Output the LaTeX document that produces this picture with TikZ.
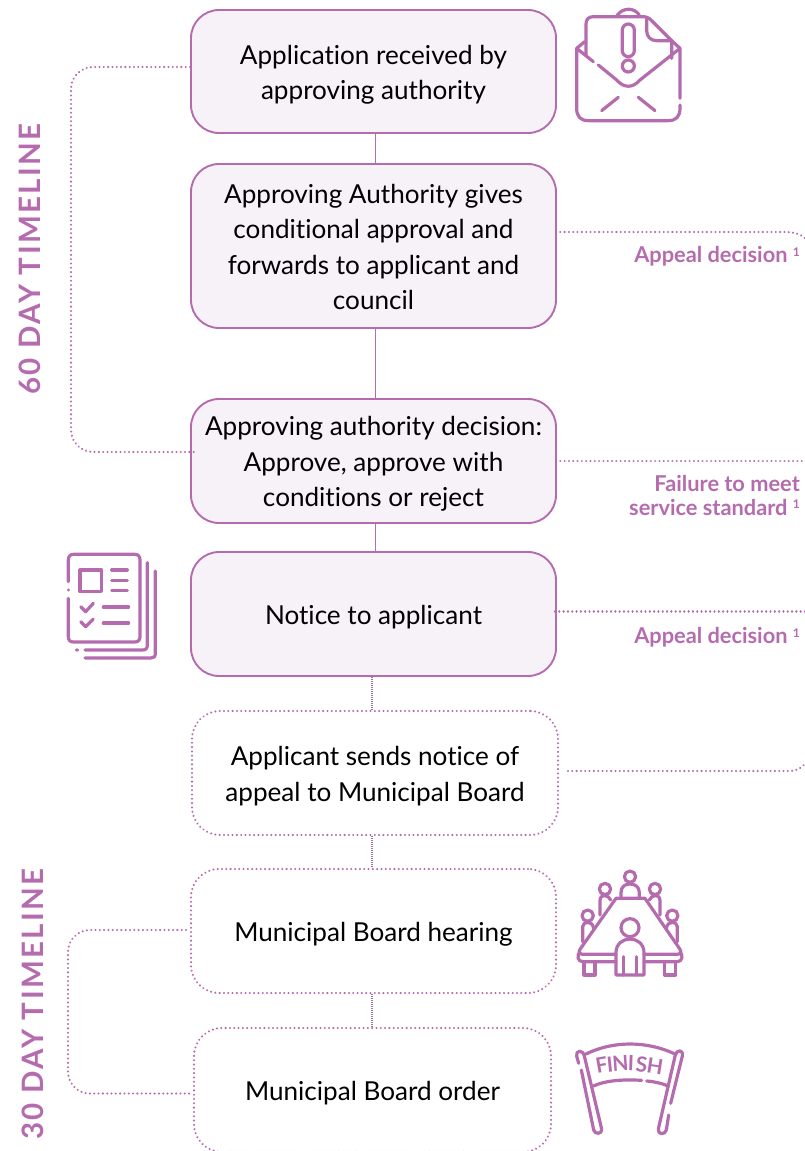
\documentclass[tikz,border=0pt]{standalone}
\usepackage{fontspec}
\setmainfont{Lato}[Ligatures=NoCommon]
\definecolor{pur}{HTML}{B56CAF}
\definecolor{pale}{HTML}{F7F1F8}
\tikzset{
 solidbox/.style={draw=pur,line width=1.9pt,fill=pale,rounded corners=28pt,align=center,font=\fontsize{26.1}{35.5}\selectfont,inner sep=0pt,text=black},
 dotbox/.style={draw=pur,dotln,rounded corners=28pt,align=center,font=\fontsize{26.1}{35.5}\selectfont,inner sep=0pt,text=black},
 dotln/.style={line width=2.3pt,line cap=round,dash pattern=on 0.01pt off 4.3pt,draw=pur},
 linkln/.style={draw=pur,line width=1pt},
 linkdot/.style={draw=pur!60!gray,line width=1.2pt,dash pattern=on 1pt off 1pt},
 lbl/.style={text=pur,font=\fontsize{21.8}{24}\bfseries\selectfont,align=right,anchor=east,inner sep=0pt},
 vlbl/.style={text=pur,font=\addfontfeature{LetterSpace=8}\fontsize{29.5}{30}\bfseries\selectfont,rotate=90,inner sep=0pt},
 ico/.style={draw=pur,line width=3.2pt,line cap=round,line join=round},
 icoscope/.style={x=0.3333pt,y=-0.3333pt},
 flag/.style={text=pur,font=\fontsize{21}{21}\bfseries\selectfont,inner sep=0pt}
}
\newcommand{\sdot}{\raisebox{0.55ex}{\fontsize{12}{12}\selectfont 1}}
\newcommand{\dn}{\rule{0pt}{25.5pt}}
\newcommand{\dnb}{\rule{0pt}{21.5pt}}
\begin{document}
\begin{tikzpicture}[x=1pt,y=-1pt]
\useasboundingbox (0,0) rectangle (805,1151);
\begin{scope}
\clip (0,0) rectangle (805,1151);
\node[solidbox,minimum width=365pt,minimum height=123pt] (n1) at (373.5,71.5) {\dn Application received by\\approving authority};
\node[solidbox,minimum width=365pt,minimum height=164pt] (n2) at (373.5,246) {\dnb Approving Authority gives\\conditional approval and\\forwards to applicant and\\council};
\node[solidbox,minimum width=365pt,minimum height=124pt] (n3) at (373.5,461) {\dn Approving authority decision:\\Approve, approve with\\conditions or reject};
\node[solidbox,minimum width=365pt,minimum height=124pt] (n4) at (373.5,614) {\dn Notice to applicant};
\node[dotbox,minimum width=366pt,minimum height=124pt] (n5) at (375,773) {\dn Applicant sends notice of\\appeal to Municipal Board};
\node[dotbox,minimum width=365pt,minimum height=124pt] (n6) at (373.5,931) {\dn Municipal Board hearing};
\node[dotbox,minimum width=357pt,minimum height=124pt] (n7) at (372.5,1090) {\dn Municipal Board order};
\end{scope}

\draw[linkln] ([xshift=1.5pt]n1.south) -- ([xshift=1.5pt]n2.north);
\draw[linkln] ([xshift=1.5pt]n2.south) -- ([xshift=1.5pt]n3.north);
\draw[linkln] ([xshift=1.5pt]n3.south) -- ([xshift=1.5pt]n4.north);
\draw[linkdot] ([xshift=-1.5pt]n4.south) -- ([xshift=-3pt]n5.north);
\draw[linkdot] ([xshift=-3pt]n5.south) -- ([xshift=-1.5pt]n6.north);
\draw[linkdot] ([xshift=-1.5pt]n6.south) -- ([xshift=-0.5pt]n7.north);

% timeline brackets
\coordinate (a1) at (190,67); \coordinate (a2) at (195,452);
\draw[dotln,rounded corners=22pt] (a1) -- (71,67) -- (71,452) -- (a2);
\coordinate (b1) at (186,930); \coordinate (b2) at (190,1093.5);
\draw[dotln,rounded corners=22pt] (b1) -- (68,930) -- (68,1093.5) -- (b2);

% right-hand links
\coordinate (r1) at (805,238); \coordinate (r1s) at (556,232);
\draw[dotln] (r1s) -- (785,232) .. controls (794,232) and (800,234) .. (r1);
\coordinate (r2) at (805,461); \coordinate (r2s) at (556,461);
\draw[dotln] (r2s) -- (r2);
\coordinate (r3) at (805,611.5); \coordinate (r3s) at (555,611.5);
\draw[dotln] (r3s) -- (r3);
\coordinate (r4) at (805,764); \coordinate (r4s) at (568,771);
\draw[dotln] (r4s) -- (790,771) .. controls (796,771) and (801,768) .. (r4);

\node[lbl] (l1) at (800,256) {Appeal decision \sdot};
\node[lbl] (l2) at (800,495) {Failure to meet\\service standard \sdot};
\node[lbl] (l3) at (800,637) {Appeal decision \sdot};

\node[vlbl] (v1) at (30,259) {60 DAY TIMELINE};
\node[vlbl] (v2) at (33,1004) {30 DAY TIMELINE};

% envelope icon
\begin{scope}[shift={(560,0)},icoscope]
\draw[ico] (172,45) .. controls (190,22) and (222,22) .. (238,45);
\draw[ico] (78,165) -- (78,72) .. controls (78,58) and (86,50) .. (100,50) -- (245,50) .. controls (258,50) and (266,52) .. (275,62) -- (335,122) -- (335,175);
\draw[ico] (260,56) -- (260,92) .. controls (260,110) and (272,122) .. (290,122) -- (332,122);
\draw[ico] (360,295) -- (360,145) -- (240,240) .. controls (218,265) and (192,265) .. (170,240) -- (115,195);
\draw[ico] (100,185) -- (50,145) -- (50,325) .. controls (50,350) and (62,362) .. (85,362) -- (325,362) .. controls (348,362) and (360,350) .. (360,325) -- (360,315);
\draw[ico] (50,145) -- (74,125) (360,145) -- (335,122);
\draw[ico] (125,332) -- (175,292) (235,292) -- (285,332);
\draw[ico] (187,90) arc (-180:0:18) -- (223,152) arc (0:180:18) -- cycle;
\draw[ico] (205,198) circle (18);
\end{scope}

% document icon
\begin{scope}[shift={(50,540)},icoscope]
\draw[ico] (55,125) -- (55,60) .. controls (55,50) and (60,43) .. (70,43) -- (255,43) .. controls (265,43) and (270,50) .. (270,60) -- (270,290) .. controls (270,300) and (265,306) .. (255,306) -- (70,306) .. controls (60,306) and (55,300) .. (55,290) -- (55,175);
\draw[ico] (55,150) -- (55,150.1);
\draw[ico] (90,90) rectangle (155,155);
\draw[ico] (185,90) -- (232,90) (185,121) -- (232,121) (185,152) -- (232,152);
\draw[ico] (92,200) -- (107,215) -- (130,190) (92,245) -- (107,260) -- (130,237);
\draw[ico] (160,201) -- (236,201) (160,249) -- (236,249);
\draw[ico] (292,68) -- (292,315) .. controls (292,325) and (288,330) .. (278,330) -- (105,330);
\draw[ico] (81,330) -- (81,330.1);
\draw[ico] (316,93) -- (316,340) .. controls (316,350) and (312,354) .. (303,354) -- (105,354);
\end{scope}

% meeting icon
\begin{scope}[shift={(560,860)},icoscope]
\draw[ico] (210,50) circle (17) (135,87) circle (17) (285,87) circle (17) (83,167) circle (17) (337,167) circle (17);
\draw[ico] (183,112) -- (183,98) .. controls (183,80) and (195,72) .. (210,72) .. controls (225,72) and (238,80) .. (238,98) -- (238,112);
\draw[ico] (120,165) -- (120,122) .. controls (120,112) and (125,107) .. (135,107) .. controls (142,107) and (148,112) .. (152,120);
\draw[ico] (300,165) -- (300,122) .. controls (300,112) and (295,107) .. (285,107) .. controls (278,107) and (272,112) .. (268,120);
\draw[ico] (68,245) -- (68,200) .. controls (68,192) and (75,187) .. (83,187) .. controls (92,187) and (98,192) .. (101,205);
\draw[ico] (352,245) -- (352,200) .. controls (352,192) and (345,187) .. (337,187) .. controls (328,187) and (322,192) .. (319,205);
\draw[ico] (168,283) -- (68,283) .. controls (58,283) and (55,275) .. (60,268) -- (168,115) -- (255,115) -- (360,268) .. controls (365,275) and (362,283) .. (352,283) -- (252,283);
\draw[ico] (168,305) -- (68,305) .. controls (52,305) and (50,285) .. (60,275);
\draw[ico] (252,305) -- (352,305) .. controls (368,305) and (370,285) .. (360,275);
\draw[ico] (72,308) -- (72,345) -- (105,345) -- (105,308) (313,308) -- (313,345) -- (347,345) -- (347,308);
\draw[ico] (210,203) circle (27);
\draw[ico] (168,345) -- (168,278) .. controls (168,252) and (188,237) .. (210,237) .. controls (232,237) and (252,252) .. (252,278) -- (252,345) -- cycle;
\draw[ico] (190,290) -- (190,345) (230,290) -- (230,345);
\end{scope}

% finish icon
\begin{scope}[shift={(560,1030)},icoscope]
\draw[ico] (64,120) -- (101,300) .. controls (104,315) and (128,312) .. (125,297) -- (73,78) .. controls (69,58) and (46,60) .. (50,78) -- (56,100);
\draw[ico] (332,220) -- (367,78) .. controls (371,58) and (350,58) .. (346,75) -- (295,297) .. controls (292,315) and (316,315) .. (319,300) -- (326,255);
\draw[ico] (78,72) .. controls (160,32) and (260,32) .. (345,72);
\draw[ico] (100,168) .. controls (140,150) and (195,148) .. (245,151);
\draw[ico] (260,153) .. controls (285,155) and (305,160) .. (325,168);
\node[flag,rotate=10] (f1) at (125,105) {F};
\node[flag,rotate=6] (f2) at (150,103) {I};
\node[flag,rotate=4] (f3) at (181,100) {N};
\node[flag,rotate=-2] (f4) at (213,100) {I};
\node[flag,rotate=-6] (f5) at (245,103) {S};
\node[flag,rotate=-9] (f6) at (285,108) {H};
\end{scope}
\end{tikzpicture}
\end{document}
